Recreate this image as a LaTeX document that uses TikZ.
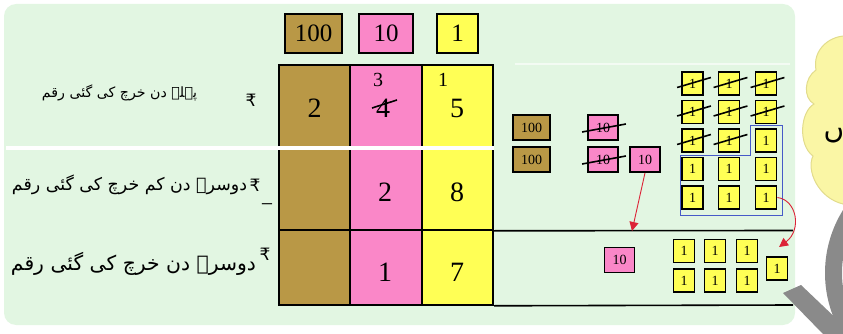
\documentclass[tikz,border=0pt]{standalone}
\usepackage{fontspec,graphicx}
\setmainfont{Liberation Serif}
\newfontfamily\urdufont[Script=Arabic]{DejaVu Sans}
\newfontfamily\symfont{DejaVu Sans}
\TeXXeTstate=1
\definecolor{bggreen}{RGB}{226,246,226}
\definecolor{hbrown}{RGB}{185,152,70}
\definecolor{tpink}{RGB}{250,135,200}
\definecolor{oyellow}{RGB}{255,255,85}
\definecolor{cloudyellow}{RGB}{250,246,165}
\definecolor{cloudline}{RGB}{226,220,140}
\definecolor{gridblue}{RGB}{70,90,200}
\definecolor{arrowred}{RGB}{220,35,55}
\definecolor{wmgray}{RGB}{138,138,138}
\usetikzlibrary{arrows.meta,calc}

\begin{document}
\begin{tikzpicture}[x=1pt, y=-1pt,
  headbox/.style={draw=black, line width=1.8pt, minimum height=39pt, inner sep=0pt, font=\fontsize{25}{25}\selectfont},
  cell/.style={draw=black, line width=1.6pt, minimum width=71.5pt, inner sep=0pt},
  digit/.style={font=\fontsize{28}{28}\selectfont},
  carry/.style={font=\fontsize{20}{20}\selectfont},
  chip/.style={draw=black, line width=1.8pt, inner sep=0pt, font=\fontsize{14}{14}\selectfont},
  hundredchip/.style={chip, fill=hbrown, minimum width=37pt, minimum height=25pt},
  tenchip/.style={chip, fill=tpink, minimum width=30pt, minimum height=25pt},
  onechip/.style={chip, fill=oyellow, minimum width=21pt, minimum height=23pt},
  strike/.style={line width=1.6pt},
  rule/.style={line width=1.6pt},
  redarrow/.style={arrowred, line width=0.9pt, -{Triangle[length=9pt,width=9pt]}}]
  \useasboundingbox (0,0) rectangle (843,334);
  \clip (0,0) rectangle (843,334);

  %--- Background ---
  \fill[bggreen, rounded corners=12pt] (4,4) rectangle (795,325);
  \draw[white, opacity=0.6, line width=2pt] (515,64) -- (790,64);

  %--- Urdu labels ---
  \node (lab1) at (119.5,92.5) {\resizebox{155pt}{!}{\urdufont\beginR پہلے دن خرچ کی گئی رقم\endR}};
  \node[font=\symfont\fontsize{17}{17}\selectfont] (rs1) at (251,100) {₹};
  \node (lab2) at (129.5,185) {\resizebox{235pt}{!}{\urdufont\beginR دوسرے دن کم خرچ کی گئی رقم\endR}};
  \node[font=\symfont\fontsize{17}{17}\selectfont] (rs2) at (255,185) {₹};
  \node[font=\fontsize{22}{22}\selectfont] (minus) at (267,208) {−};
  \node (lab3) at (133.5,264) {\resizebox{245pt}{!}{\urdufont\beginR دوسرے دن خرچ کی گئی رقم\endR}};
  \node[font=\symfont\fontsize{17}{17}\selectfont] (rs3) at (265,254) {₹};

  %--- Place value headers ---
  \node[headbox, fill=hbrown, minimum width=57pt] (hh) at (313.5,33.5) {100};
  \node[headbox, fill=tpink, minimum width=54pt] (ht) at (386,33.5) {10};
  \node[headbox, fill=oyellow, minimum width=41pt] (ho) at (457.5,33.5) {1};

  %--- Table ---
  \node[cell, fill=hbrown, minimum height=82pt] (c11) at (314.5,106) {};
  \node[cell, fill=tpink, minimum height=82pt] (c12) at (386,106) {};
  \node[cell, fill=oyellow, minimum height=82pt] (c13) at (457.5,106) {};
  \node[cell, fill=hbrown, minimum height=82pt] (c21) at (314.5,189) {};
  \node[cell, fill=tpink, minimum height=82pt] (c22) at (386,189) {};
  \node[cell, fill=oyellow, minimum height=82pt] (c23) at (457.5,189) {};
  \node[cell, fill=hbrown, minimum height=75pt] (c31) at (314.5,267.5) {};
  \node[cell, fill=tpink, minimum height=75pt] (c32) at (386,267.5) {};
  \node[cell, fill=oyellow, minimum height=75pt] (c33) at (457.5,267.5) {};
  \draw[white, line width=3pt] (6,148) -- (494,148);

  % digits
  \node[digit] (d11) at (314.5,108) {2};
  \node[digit] (d12) at (383,108) {4};
  \node[carry] (k12) at (378,80) {3};
  \node[digit] (d13) at (457,108) {5};
  \node[carry] (k13) at (443,80) {1};
  \node[digit] (d22) at (385,192) {2};
  \node[digit] (d23) at (457,192) {8};
  \node[digit] (d32) at (385,272) {1};
  \node[digit] (d33) at (457,272) {7};
  \draw[strike] ([shift={(-11,0)}]d12.center) -- ([shift={(14,-8)}]d12.center);

  % rules
  \coordinate (rule1) at (793,230.5);
  \coordinate (rule2) at (793,305);
  \draw[rule] (c23.south east) -- (rule1);
  \draw[rule] (c33.south east) -- (rule2);

  %--- Hundreds and tens ---
  \node[hundredchip] (h1) at (531.5,127.5) {100};
  \node[hundredchip] (h2) at (531.5,159.5) {100};
  \node[tenchip] (t1) at (603,127.5) {10};
  \node[tenchip] (t2) at (603,159.5) {10};
  \node[tenchip] (t3) at (645,159.5) {10};
  \draw[strike] ([shift={(-5,4.5)}]t1.west) -- ([shift={(7,-3.5)}]t1.east);
  \draw[strike] ([shift={(-5,4.5)}]t2.west) -- ([shift={(7,-3.5)}]t2.east);
  \node[tenchip] (t4) at (619.5,260) {10};

  %--- Ones ---
  \node[onechip] (o11) at (692.5,83.5) {1};
  \node[onechip] (o12) at (729,83.5) {1};
  \node[onechip] (o13) at (766,83.5) {1};
  \node[onechip] (o21) at (692.5,112) {1};
  \node[onechip] (o22) at (729,112) {1};
  \node[onechip] (o23) at (766,112) {1};
  \node[onechip] (o31) at (692.5,140.5) {1};
  \node[onechip] (o32) at (729,140.5) {1};
  \node[onechip] (o33) at (766,140.5) {1};
  \node[onechip] (o41) at (692.5,169) {1};
  \node[onechip] (o42) at (729,169) {1};
  \node[onechip] (o43) at (766,169) {1};
  \node[onechip] (o51) at (692.5,197.5) {1};
  \node[onechip] (o52) at (729,197.5) {1};
  \node[onechip] (o53) at (766,197.5) {1};
  \draw[strike] ([shift={(-4,4)}]o11.west) -- ([shift={(7,-6)}]o11.east);
  \draw[strike] ([shift={(-4,4)}]o12.west) -- ([shift={(7,-6)}]o12.east);
  \draw[strike] ([shift={(-4,4)}]o13.west) -- ([shift={(7,-6)}]o13.east);
  \draw[strike] ([shift={(-4,4)}]o21.west) -- ([shift={(7,-6)}]o21.east);
  \draw[strike] ([shift={(-4,4)}]o22.west) -- ([shift={(7,-6)}]o22.east);
  \draw[strike] ([shift={(-4,4)}]o23.west) -- ([shift={(7,-6)}]o23.east);
  \draw[strike] ([shift={(-4,4)}]o31.west) -- ([shift={(7,-6)}]o31.east);
  \draw[strike] ([shift={(-4,4)}]o32.west) -- ([shift={(7,-6)}]o32.east);
  \draw[gridblue, line width=1pt] (680,155) -- (750,155) -- (750,126) -- (782,126) -- (782,215) -- (680,215) -- cycle;

  \node[onechip] (p11) at (684,251) {1};
  \node[onechip] (p12) at (715,251) {1};
  \node[onechip] (p13) at (747,251) {1};
  \node[onechip] (p21) at (684,280.5) {1};
  \node[onechip] (p22) at (715,280.5) {1};
  \node[onechip] (p23) at (747,280.5) {1};
  \node[onechip] (p0) at (777,268.5) {1};

  %--- Regrouping arrows ---
  \coordinate (tip1) at (632,231);
  \coordinate (tip2) at (779,247);
  \draw[redarrow] (t3.south) -- (tip1);
  \draw[redarrow] (o53.east) .. controls (797,200) and (802,230) .. (tip2);

  %--- Cloud ---
  \draw[cloudline, fill=cloudyellow, line width=1pt] (850,36) .. controls (830,34) and (812,50) .. (816,70)
    .. controls (804,78) and (803,98) .. (814,104) .. controls (800,112) and (798,145) .. (813,156)
    .. controls (806,170) and (818,198) .. (843,204) -- (850,204) -- cycle;
  \node[font=\urdufont\fontsize{28}{28}\selectfont] (cloudtext) at (834,136) {\beginR ں\endR};

  %--- Watermark ---
  \fill[wmgray, even odd rule] (944,273) circle (119) (944,273) circle (102);
  \fill[wmgray] (783,293) -- (801,285) -- (843,325) -- (843,334) -- (823,334) -- cycle;
\end{tikzpicture}
\end{document}
